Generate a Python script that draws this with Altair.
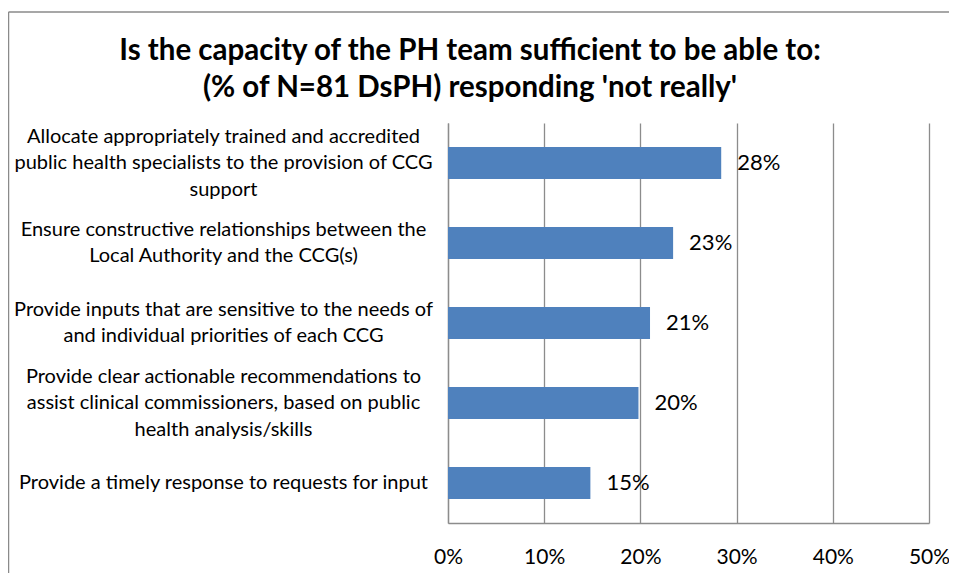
import altair as alt
import pandas as pd

categories = [
    "Allocate appropriately trained and accredited|public health specialists to the provision of CCG|support",
    "Ensure constructive relationships between the|Local Authority and the CCG(s)",
    "Provide inputs that are sensitive to the needs of|and individual priorities of each CCG",
    "Provide clear actionable recommendations to|assist clinical commissioners, based on public|health analysis/skills",
    "Provide a timely response to requests for input",
]
values = [0.284, 0.234, 0.210, 0.198, 0.148]
x_ticks = [0, 0.1, 0.2, 0.3, 0.4, 0.5]
title_lines = [
    "Is the capacity of the PH team sufficient to be able to:",
    "(% of N=81 DsPH) responding 'not really'",
]

df = pd.DataFrame({"category": categories, "value": values})

FONT = "Lato"
W, H = 481, 400
GRID = "#8c8c8c"
LH = 26.5

y_enc = alt.Y(
    "category:N",
    sort=None,
    scale=alt.Scale(paddingInner=0.6, paddingOuter=0.3),
    axis=alt.Axis(
        title=None,
        ticks=False,
        labelAlign="center",
        labelBaseline="middle",
        labelPadding=225,
        labelLimit=600,
        labelFont=FONT,
        labelFontSize=20,
        labelLineHeight=LH,
        labelOffset=alt.ExprRef(expr=f"-(length(split(datum.value, '|')) - 1) * {LH / 2}"),
        labelColor="#000000",
        labelExpr="split(datum.label, '|')",
        domainColor=GRID,
        domainWidth=1.3,
        grid=False,
    ),
)
x_enc = alt.X(
    "value:Q",
    scale=alt.Scale(domain=[0, 0.5], nice=False),
    axis=alt.Axis(
        title=None,
        values=x_ticks,
        format=".0%",
        ticks=False,
        labelFlush=False,
        labelPadding=23,
        labelFont=FONT,
        labelFontSize=21,
        labelColor="#000000",
        domainColor=GRID,
        domainWidth=1.3,
        grid=True,
        gridColor=GRID,
        gridWidth=1.3,
        gridOpacity=1,
    ),
)

bars = alt.Chart(df).mark_bar(color="#4f81bd").encode(x=x_enc, y=y_enc)
labels = alt.Chart(df).mark_text(
    align="left", baseline="middle", dx=16, font=FONT, fontSize=22, color="#000000"
).encode(x="value:Q", y=alt.Y("category:N", sort=None), text=alt.Text("value:Q", format=".0%"))

one_row = pd.DataFrame({"k": [0]})
title_style = dict(
    align="center", baseline="middle", font=FONT, fontSize=29.5, fontWeight="bold", color="#000000"
)
title_1 = alt.Chart(one_row).mark_text(**title_style).encode(
    x=alt.value(22), y=alt.value(-72), text=alt.value(title_lines[0])
)
title_2 = alt.Chart(one_row).mark_text(**title_style).encode(
    x=alt.value(22), y=alt.value(-35), text=alt.value(title_lines[1])
)

top_line = alt.Chart(one_row).mark_rule(color="#8a8a8a", strokeWidth=1.5).encode(
    x=alt.value(-439.5), x2=alt.value(W + 40), y=alt.value(-111)
)
left_line = alt.Chart(one_row).mark_rule(color="#8a8a8a", strokeWidth=1.5).encode(
    x=alt.value(-439.5), y=alt.value(-111), y2=alt.value(H + 70)
)

chart = (
    alt.layer(bars, labels, title_1, title_2, top_line, left_line)
    .properties(
        width=W,
        height=H,
        autosize=alt.AutoSizeParams(type="none"),
        padding={"left": 440, "top": 115, "right": 20, "bottom": 50},
    )
    .configure_view(stroke=None)
)

chart.save("out.html", embed_options={"renderer": "svg", "actions": False})
